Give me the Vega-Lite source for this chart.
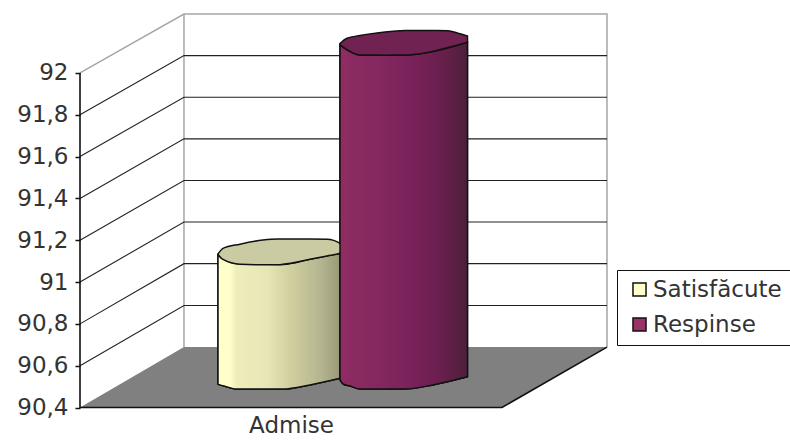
{
"$schema":"https://vega.github.io/schema/vega-lite/v6.json",
"width":710,"height":407.5,"autosize":{"type":"none"},
"padding":{"left":80,"top":0,"right":0,"bottom":33.5},
"background":"white",
"config":{"view":{"stroke":null},"font":"DejaVu Sans"},
"datasets":{
"walls":[
{"s":"a","o":0,"x":0,"y":92},{"s":"a","o":1,"x":24.64,"y":92.282},{"s":"a","o":2,"x":124.88,"y":92.282},{"s":"a","o":3,"x":124.88,"y":90.689},
{"s":"b","o":0,"x":24.64,"y":92.282},{"s":"b","o":1,"x":24.64,"y":90.689}],
"grid":[
{"s":"91,8","o":0,"x":0,"y":91.8},{"s":"91,8","o":1,"x":24.64,"y":92.083},{"s":"91,8","o":2,"x":124.88,"y":92.083},
{"s":"91,6","o":0,"x":0,"y":91.6},{"s":"91,6","o":1,"x":24.64,"y":91.884},{"s":"91,6","o":2,"x":124.88,"y":91.884},
{"s":"91,4","o":0,"x":0,"y":91.4},{"s":"91,4","o":1,"x":24.64,"y":91.685},{"s":"91,4","o":2,"x":124.88,"y":91.685},
{"s":"91,2","o":0,"x":0,"y":91.2},{"s":"91,2","o":1,"x":24.64,"y":91.486},{"s":"91,2","o":2,"x":124.88,"y":91.486},
{"s":"91","o":0,"x":0,"y":91.0},{"s":"91","o":1,"x":24.64,"y":91.287},{"s":"91","o":2,"x":124.88,"y":91.287},
{"s":"90,8","o":0,"x":0,"y":90.8},{"s":"90,8","o":1,"x":24.64,"y":91.088},{"s":"90,8","o":2,"x":124.88,"y":91.088},
{"s":"90,6","o":0,"x":0,"y":90.6},{"s":"90,6","o":1,"x":24.64,"y":90.888},{"s":"90,6","o":2,"x":124.88,"y":90.888}],
"floor":[{"x":0,"y":90.4,"y2":90.4},{"x":24.64,"y":90.689,"y2":90.4},{"x":100,"y":90.689,"y2":90.4},{"x":124.88,"y":90.689,"y2":90.689}],
"edge":[{"o":0,"x":0,"y":92},{"o":1,"x":0,"y":90.4},{"o":2,"x":100,"y":90.4},{"o":3,"x":124.88,"y":90.689}],
"shapes":[
{"series":"Satisfăcute","part":"top","x":32.7,"y":91.134,"y2":91.132},
{"series":"Satisfăcute","part":"top","x":33.89,"y":91.161,"y2":91.108},
{"series":"Satisfăcute","part":"top","x":37.91,"y":91.181,"y2":91.085},
{"series":"Satisfăcute","part":"top","x":43.36,"y":91.201,"y2":91.083},
{"series":"Satisfăcute","part":"top","x":46.92,"y":91.206,"y2":91.083},
{"series":"Satisfăcute","part":"top","x":48.1,"y":91.206,"y2":91.085},
{"series":"Satisfăcute","part":"top","x":54.5,"y":91.206,"y2":91.109},
{"series":"Satisfăcute","part":"top","x":58.53,"y":91.205,"y2":91.125},
{"series":"Satisfăcute","part":"top","x":61.61,"y":91.185,"y2":91.138},
{"series":"Satisfăcute","part":"top","x":62.09,"y":91.163,"y2":91.153},
{"series":"Satisfăcute","part":"body","x":32.7,"y":91.129,"y2":90.511},
{"series":"Satisfăcute","part":"body","x":34.12,"y":91.108,"y2":90.503},
{"series":"Satisfăcute","part":"body","x":37.2,"y":91.089,"y2":90.488},
{"series":"Satisfăcute","part":"body","x":48.1,"y":91.084,"y2":90.488},
{"series":"Satisfăcute","part":"body","x":54.5,"y":91.109,"y2":90.508},
{"series":"Satisfăcute","part":"body","x":61.61,"y":91.138,"y2":90.54},
{"series":"Respinse","part":"top","x":61.61,"y":92.141,"y2":92.134},
{"series":"Respinse","part":"top","x":63.27,"y":92.166,"y2":92.112},
{"series":"Respinse","part":"top","x":66.35,"y":92.179,"y2":92.086},
{"series":"Respinse","part":"top","x":68.72,"y":92.187,"y2":92.086},
{"series":"Respinse","part":"top","x":72.27,"y":92.196,"y2":92.085},
{"series":"Respinse","part":"top","x":75.83,"y":92.202,"y2":92.086},
{"series":"Respinse","part":"top","x":77.01,"y":92.203,"y2":92.086},
{"series":"Respinse","part":"top","x":81.75,"y":92.203,"y2":92.096},
{"series":"Respinse","part":"top","x":84.6,"y":92.203,"y2":92.107},
{"series":"Respinse","part":"top","x":87.2,"y":92.202,"y2":92.122},
{"series":"Respinse","part":"top","x":89.57,"y":92.19,"y2":92.134},
{"series":"Respinse","part":"top","x":91.82,"y":92.177,"y2":92.147},
{"series":"Respinse","part":"body","x":61.61,"y":92.134,"y2":90.532},
{"series":"Respinse","part":"body","x":62.44,"y":92.122,"y2":90.511},
{"series":"Respinse","part":"body","x":64.0,"y":92.102,"y2":90.503},
{"series":"Respinse","part":"body","x":66.35,"y":92.086,"y2":90.488},
{"series":"Respinse","part":"body","x":77.01,"y":92.086,"y2":90.488},
{"series":"Respinse","part":"body","x":83.65,"y":92.103,"y2":90.508},
{"series":"Respinse","part":"body","x":91.82,"y":92.147,"y2":90.547}
]},
"encoding":{
"x":{"field":"x","type":"quantitative","scale":{"domain":[0,168.25],"nice":false,"zero":false},
 "axis":{"values":[50],"labelExpr":"'Admise'","title":null,"grid":false,"ticks":false,"domain":false,"labelFontSize":23,"labelColor":"#333","labelPadding":7,"zindex":1,"labelFlush":false}},
"y":{"field":"y","type":"quantitative","scale":{"domain":[90.4,92.349],"nice":false,"zero":false},
 "axis":{"values":[90.4,90.6,90.8,91,91.2,91.4,91.6,91.8,92],"labelExpr":"replace(format(datum.value,'.1f'),'.0','') == format(datum.value,'.1f') ? replace(format(datum.value,'.1f'),'.',',') : format(datum.value,'d')","title":null,"grid":false,"domain":false,"tickColor":"#111","tickSize":5,"tickWidth":1.5,"labelFontSize":23,"labelColor":"#333","labelPadding":7,"zindex":1}}
},
"layer":[
{"data":{"name":"walls"},"mark":{"type":"line","color":"#a6a6a6","strokeWidth":1.5},"encoding":{"detail":{"field":"s"},"order":{"field":"o"}}},
{"data":{"name":"grid"},"mark":{"type":"line","color":"#222","strokeWidth":1.1},"encoding":{"detail":{"field":"s"},"order":{"field":"o"}}},
{"data":{"name":"floor"},"mark":{"type":"area","orient":"vertical","color":"#808080"},"encoding":{"y2":{"field":"y2"}}},
{"data":{"name":"edge"},"mark":{"type":"line","color":"#111","strokeWidth":1.6},"encoding":{"order":{"field":"o"}}},
{"data":{"name":"shapes"},"transform":[{"filter":"datum.part==='body'"}],"mark":{"type":"area","orient":"vertical","interpolate":"monotone","stroke":"#111","strokeWidth":1.5},
 "encoding":{"y2":{"field":"y2"},"color":{"field":"series","type":"nominal","sort":["Satisfăcute","Respinse"],"scale":{"domain":["Satisfăcute","Respinse"],"range":["#ffffcc","#993366"]},
 "legend":{"title":null,"orient":"none","legendX":537,"legendY":270,"strokeColor":"#111","fillColor":"white","padding":8,"symbolType":"square","symbolSize":170,"symbolOffset":3,"symbolStrokeColor":"#111","symbolStrokeWidth":1.5,"labelFontSize":23,"labelColor":"#333","labelOffset":2,"rowPadding":11,"labelLimit":200}}}},
{"data":{"name":"shapes"},"transform":[{"filter":"datum.series==='Satisfăcute'&&datum.part==='body'"}],"mark":{"type":"area","orient":"vertical","interpolate":"monotone","stroke":"#111","strokeWidth":1.5,"color":{"gradient":"linear","x1":0,"y1":0,"x2":1,"y2":0,"stops":[{"offset":0,"color":"#ffffcc"},{"offset":0.1,"color":"#ffffcc"},{"offset":0.15,"color":"#eeeebb"},{"offset":0.4,"color":"#e6e6b8"},{"offset":0.6,"color":"#cfcf9e"},{"offset":0.85,"color":"#b4b491"},{"offset":1,"color":"#999977"}]}},"encoding":{"y2":{"field":"y2"}}},
{"data":{"name":"shapes"},"transform":[{"filter":"datum.series==='Satisfăcute'&&datum.part==='top'"}],"mark":{"type":"area","orient":"vertical","interpolate":"monotone","stroke":"#111","strokeWidth":1.5,"color":"#cbcba3"},"encoding":{"y2":{"field":"y2"}}},
{"data":{"name":"shapes"},"transform":[{"filter":"datum.series==='Respinse'&&datum.part==='body'"}],"mark":{"type":"area","orient":"vertical","interpolate":"monotone","stroke":"#111","strokeWidth":1.5,"color":{"gradient":"linear","x1":0,"y1":0,"x2":1,"y2":0,"stops":[{"offset":0,"color":"#8f2c63"},{"offset":0.3,"color":"#842860"},{"offset":0.6,"color":"#762158"},{"offset":0.8,"color":"#681f4d"},{"offset":1,"color":"#4d1f3c"}]}},"encoding":{"y2":{"field":"y2"}}},
{"data":{"name":"shapes"},"transform":[{"filter":"datum.series==='Respinse'&&datum.part==='top'"}],"mark":{"type":"area","orient":"vertical","interpolate":"monotone","stroke":"#111","strokeWidth":1.5,"color":"#702352"},"encoding":{"y2":{"field":"y2"}}}
]
}
